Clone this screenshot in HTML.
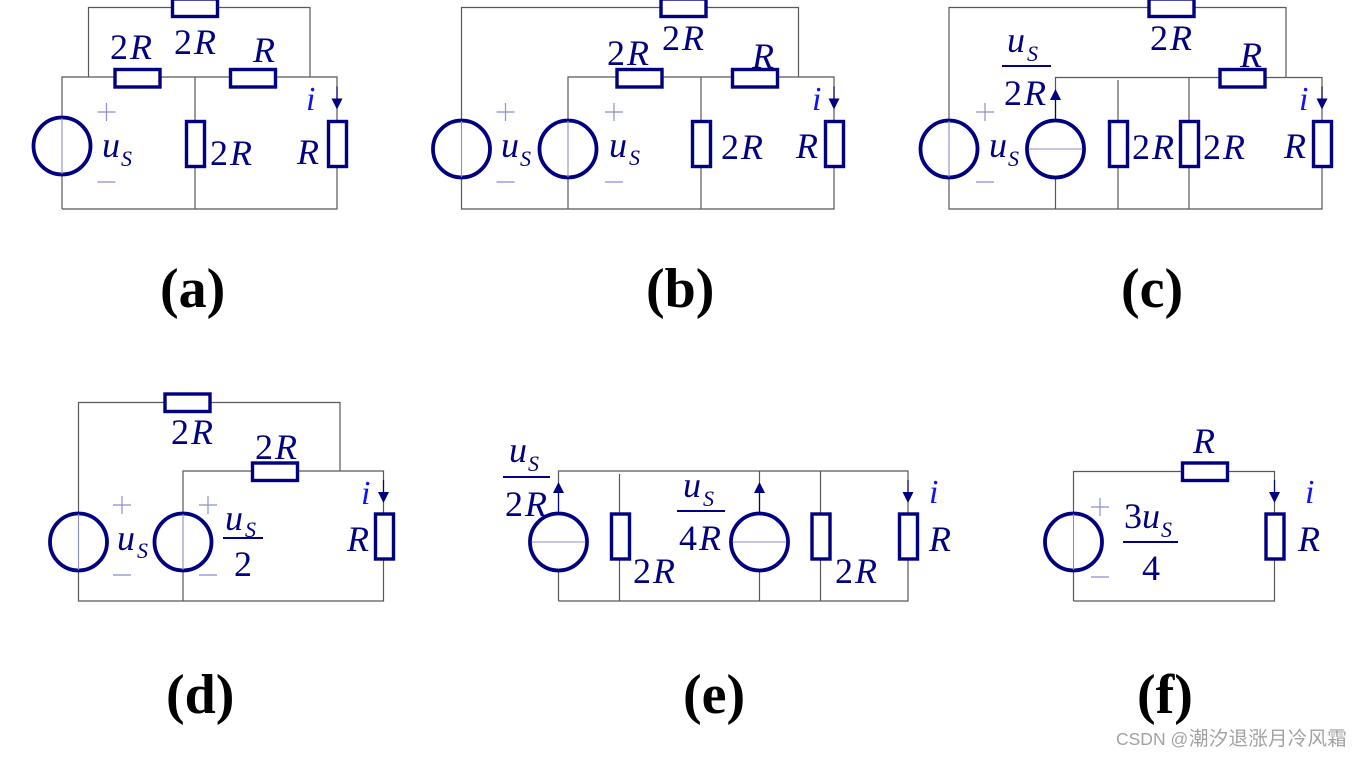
<!DOCTYPE html>
<html><head><meta charset="utf-8"><style>
html,body{margin:0;padding:0;background:#fff;width:1362px;height:757px;overflow:hidden}
svg{display:block}
.w{stroke:#585858;stroke-width:1.2;fill:none}
.t{font:italic 36px "Liberation Serif",serif;fill:#000080;letter-spacing:2px}
.t tspan{font-style:normal}
.s{font:italic 22px "Liberation Serif",serif;fill:#000080}
.n{font:36px "Liberation Serif",serif;fill:#000080}
.i{font:italic 34px "Liberation Serif",serif;fill:#1010ff}
.c{font:bold 56px "Liberation Serif",serif;fill:#000}
.f{stroke:#000080;stroke-width:2}
</style></head><body>
<svg width="1362" height="757" viewBox="0 0 1362 757" xmlns="http://www.w3.org/2000/svg">
<defs>
<g id="vs"><circle r="28.5" fill="#fff" stroke="#000080" stroke-width="3.8"/><line y1="-28" y2="28" stroke="#8c8cc8" stroke-width="1.1"/></g>
<g id="cs"><circle r="28.5" fill="#fff" stroke="#000080" stroke-width="3.8"/><line x1="-27" x2="27" stroke="#8c8cc8" stroke-width="1.1"/></g>
<rect id="hr" x="-22.5" y="-8.5" width="45" height="17.5" fill="#fff" stroke="#000080" stroke-width="3.4"/>
<rect id="vr" x="-8.5" y="-22" width="18" height="45" fill="#fff" stroke="#000080" stroke-width="3.4"/>
<g id="pm" stroke="#8c8cd8" stroke-width="1.2"><line x1="-9" x2="9" y1="0" y2="0"/><line x1="0" x2="0" y1="-9" y2="9"/><line x1="-9" x2="9" y1="70" y2="70"/></g>
<g id="ad"><line y1="-12" y2="0" stroke="#000080" stroke-width="1.2"/><path d="M-5.5 0H5.5L0 11Z" fill="#000080"/></g>
<g id="au"><line y1="29" y2="8" stroke="#000080" stroke-width="1.2"/><path d="M-5.5 9H5.5L0 -2Z" fill="#000080"/></g>
</defs>

<!-- a -->
<path class="w" d="M88.5 77V7.5H310V77M62 209V77H337V209H62M195 77V209"/>
<use href="#hr" x="195" y="7.5"/><use href="#hr" x="137.5" y="78"/><use href="#hr" x="253" y="78"/>
<use href="#vr" x="195" y="143.5"/><use href="#vr" x="337" y="143.5"/>
<use href="#vs" x="62" y="146"/><use href="#pm" x="106.5" y="112"/><use href="#ad" x="337" y="98.5"/>
<text class="t" x="110" y="59"><tspan>2</tspan>R</text><text class="t" x="174" y="54"><tspan>2</tspan>R</text><text class="t" x="253" y="62">R</text>
<text class="i" x="306" y="110">i</text><text class="t" x="102" y="157">u</text><text class="s" x="121" y="166">S</text>
<text class="t" x="210" y="165"><tspan>2</tspan>R</text><text class="t" x="297" y="164">R</text>
<text class="c" x="160" y="307">(a)</text>

<!-- b -->
<path class="w" d="M798.5 77V7.5H461.5V209H834V77H568V209M701 77V209"/>
<use href="#hr" x="683.5" y="7.5"/><use href="#hr" x="639.5" y="78"/><use href="#hr" x="755" y="78"/>
<use href="#vr" x="701" y="143.5"/><use href="#vr" x="834" y="143.5"/>
<use href="#vs" x="461.5" y="149"/><use href="#vs" x="568" y="149"/>
<use href="#pm" x="505.5" y="112"/><use href="#pm" x="614" y="112"/><use href="#ad" x="834" y="98.5"/>
<text class="t" x="662" y="50"><tspan>2</tspan>R</text><text class="t" x="607" y="65"><tspan>2</tspan>R</text><text class="t" x="752" y="68">R</text>
<text class="i" x="812" y="110">i</text><text class="t" x="501" y="157">u</text><text class="s" x="520" y="166">S</text>
<text class="t" x="609" y="157">u</text><text class="s" x="629" y="165">S</text>
<text class="t" x="721" y="159"><tspan>2</tspan>R</text><text class="t" x="796" y="158">R</text>
<text class="c" x="646" y="307">(b)</text>

<!-- c -->
<path class="w" d="M1286 77V7.5H949V209H1322V77.5H1055.5V209M1118 80V209M1189 77V209"/>
<use href="#hr" x="1171.5" y="7.5"/><use href="#hr" x="1242.5" y="78"/>
<use href="#vr" x="1118" y="143.5"/><use href="#vr" x="1189" y="143.5"/><use href="#vr" x="1322" y="143.5"/>
<use href="#vs" x="949" y="149"/><use href="#cs" x="1055.5" y="149"/>
<use href="#pm" x="985" y="112"/><use href="#ad" x="1322" y="98.5"/><use href="#au" x="1055.5" y="91"/>
<line class="f" x1="1002" x2="1051" y1="66" y2="66"/>
<text class="t" x="1007" y="52">u</text><text class="s" x="1027" y="61">S</text><text class="t" x="1004" y="105"><tspan>2</tspan>R</text>
<text class="t" x="1150" y="50"><tspan>2</tspan>R</text><text class="t" x="1240" y="67">R</text><text class="i" x="1299" y="110">i</text>
<text class="t" x="989" y="157">u</text><text class="s" x="1008" y="166">S</text>
<text class="t" x="1132" y="159"><tspan>2</tspan>R</text><text class="t" x="1203" y="159"><tspan>2</tspan>R</text><text class="t" x="1284" y="158">R</text>
<text class="c" x="1121" y="307">(c)</text>

<!-- d -->
<path class="w" d="M340 471V402.5H78.5V601H383.5V471H183V601"/>
<use href="#hr" x="187.5" y="402.5"/><use href="#hr" x="275" y="471.5"/><use href="#vr" x="384" y="536"/>
<use href="#vs" x="78.5" y="542"/><use href="#vs" x="183" y="542"/>
<use href="#pm" x="122" y="505"/><use href="#pm" x="208" y="505"/><use href="#ad" x="383.5" y="492"/>
<line class="f" x1="223" x2="263" y1="538" y2="538"/>
<text class="t" x="171" y="444"><tspan>2</tspan>R</text><text class="t" x="255" y="459"><tspan>2</tspan>R</text><text class="i" x="361" y="504">i</text>
<text class="t" x="347" y="551">R</text><text class="t" x="117" y="550">u</text><text class="s" x="137" y="558">S</text>
<text class="t" x="225" y="530">u</text><text class="s" x="245" y="537">S</text><text class="n" x="234" y="576">2</text>
<text class="c" x="166" y="713">(d)</text>

<!-- e -->
<path class="w" d="M558.5 601V471H908V601H558.5M619.5 474V601M759.5 471V601M820.5 471V601"/>
<use href="#vr" x="620" y="536"/><use href="#vr" x="820.5" y="536"/><use href="#vr" x="908" y="536"/>
<use href="#cs" x="558.5" y="542"/><use href="#cs" x="759.5" y="542"/>
<use href="#au" x="558.5" y="484"/><use href="#au" x="759.5" y="484"/><use href="#ad" x="908" y="492"/>
<line class="f" x1="503" x2="550" y1="477" y2="477"/><line class="f" x1="677" x2="725" y1="511" y2="511"/>
<text class="t" x="509" y="462">u</text><text class="s" x="528" y="471">S</text><text class="t" x="505" y="516"><tspan>2</tspan>R</text>
<text class="t" x="683" y="497">u</text><text class="s" x="703" y="506">S</text><text class="t" x="679" y="550"><tspan>4</tspan>R</text>
<text class="t" x="633" y="583"><tspan>2</tspan>R</text><text class="t" x="835" y="583"><tspan>2</tspan>R</text>
<text class="i" x="929" y="503">i</text><text class="t" x="929" y="551">R</text>
<text class="c" x="683" y="713">(e)</text>

<!-- f -->
<path class="w" d="M1073.5 601V471.5H1274.5V601H1073.5"/>
<use href="#hr" x="1205" y="471.5"/><use href="#vr" x="1274.5" y="536"/>
<use href="#vs" x="1073.5" y="542"/><use href="#pm" x="1100" y="507"/><use href="#ad" x="1274.5" y="492"/>
<line class="f" x1="1123" x2="1178" y1="542" y2="542"/>
<text class="n" x="1124" y="528">3</text><text class="t" x="1142" y="528">u</text><text class="s" x="1161" y="537">S</text><text class="n" x="1142" y="580">4</text>
<text class="t" x="1193" y="453">R</text><text class="i" x="1305" y="503">i</text><text class="t" x="1298" y="551">R</text>
<text class="c" x="1137" y="713">(f)</text>

<text x="1116" y="745" font-family="Liberation Sans,sans-serif" font-size="17.5" fill="#a2a2a2">CSDN @</text>
<text x="1189" y="745" font-family="'Liberation Sans','Noto Sans CJK SC',sans-serif" font-size="19.5" letter-spacing="0.25" fill="#a2a2a2">潮汐退涨月冷风霜</text>
</svg>
</body></html>
